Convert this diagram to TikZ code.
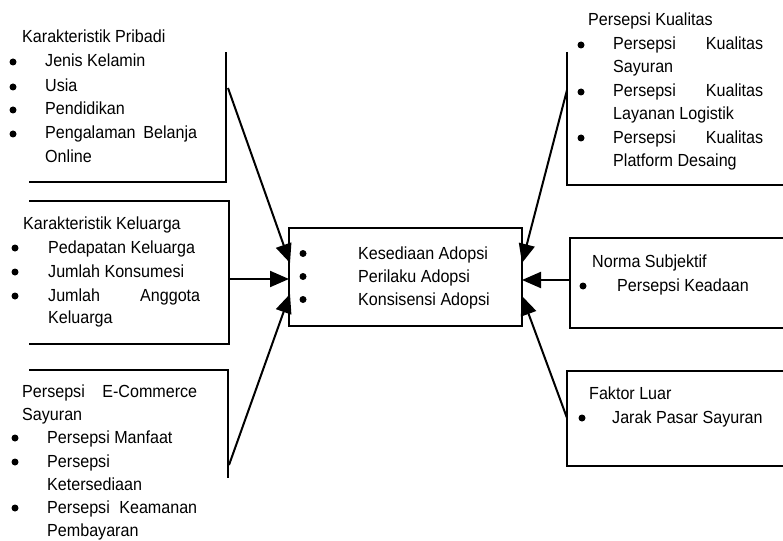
\documentclass[tikz,border=0pt]{standalone}
\usepackage{fontspec}
\setmainfont{Liberation Sans}[FakeStretch=0.92]
\usetikzlibrary{arrows.meta}
\begin{document}
\begin{tikzpicture}[x=1pt,y=-1pt,
  txt/.style={anchor=base west,inner sep=0pt,font=\fontsize{17.5}{20}\selectfont},
  edgeline/.style={line width=2.4pt},
  conn/.style={line width=2pt,-{Triangle[length=19pt,width=16pt]}},
  bul/.style={fill=black}]
\useasboundingbox (0,0) rectangle (783,540);
\fill[white] (0,0) rectangle (783,540);

% ---- box outlines (open shapes as printed) ----
\draw[edgeline] (29,182) -- (226,182) -- (226,52);
\draw[edgeline] (29,201) -- (229,201) -- (229,344) -- (29,344);
\draw[edgeline] (29,370) -- (228,370) -- (228,478);
\draw[edgeline] (567,52) -- (567,185) -- (783,185);
\draw[edgeline] (783,238) -- (570,238) -- (570,328) -- (783,328);
\draw[edgeline] (783,371) -- (567,371) -- (567,466) -- (783,466);
\draw[edgeline] (289,228) rectangle (522,326);

% ---- box 1 ----
\node[txt] (p0) at (22,43) {Karakteristik Pribadi};
\node[txt] (p1) at (45,67) {Jenis Kelamin};
\node[txt] (p2) at (45,92) {Usia};
\node[txt] (p3) at (45,115) {Pendidikan};
\node[txt] (p4) at (45,139) {\hbox to 152pt{Pengalaman\hfill Belanja}};
\node[txt] (p5) at (45,162) {Online};
\foreach \y in {67,92,115,139} \fill[bul] (13,\y-5) circle (3.5pt);

% ---- box 2 ----
\node[txt] (k0) at (23,229) {Karakteristik Keluarga};
\node[txt] (k1) at (48,253) {Pedapatan Keluarga};
\node[txt] (k2) at (48,277) {Jumlah Konsumesi};
\node[txt] (k3) at (48,301) {\hbox to 152pt{Jumlah\hfill Anggota}};
\node[txt] (k4) at (48,323) {Keluarga};
\foreach \y in {253,277,301} \fill[bul] (15,\y-5) circle (3.5pt);

% ---- box 3 ----
\node[txt] (e0) at (22,397) {\hbox to 175pt{Persepsi\hfill E-Commerce}};
\node[txt] (e1) at (22,420) {Sayuran};
\node[txt] (e2) at (47,443) {Persepsi Manfaat};
\node[txt] (e3) at (47,467) {Persepsi};
\node[txt] (e4) at (47,490) {Ketersediaan};
\node[txt] (e5) at (47,513) {\hbox to 150pt{Persepsi\hfill Keamanan}};
\node[txt] (e6) at (47,536) {Pembayaran};
\foreach \y in {443,467,513} \fill[bul] (15,\y-5) circle (3.5pt);

% ---- center ----
\node[txt] (c1) at (358,259) {Kesediaan Adopsi};
\node[txt] (c2) at (358,282) {Perilaku Adopsi};
\node[txt] (c3) at (358,305) {Konsisensi Adopsi};
\foreach \y in {259,282,305} \fill[bul] (303,\y-5.5) circle (3.5pt);

% ---- box 4 ----
\node[txt] (q0) at (588,26) {Persepsi Kualitas};
\node[txt] (q1) at (613,50) {\hbox to 150pt{Persepsi\hfill Kualitas}};
\node[txt] (q2) at (613,73) {Sayuran};
\node[txt] (q3) at (613,97) {\hbox to 150pt{Persepsi\hfill Kualitas}};
\node[txt] (q4) at (613,120) {Layanan Logistik};
\node[txt] (q5) at (613,143) {\hbox to 150pt{Persepsi\hfill Kualitas}};
\node[txt] (q6) at (613,167) {Platform Desaing};
\foreach \y in {50,97,143} \fill[bul] (581,\y-5) circle (3.5pt);

% ---- box 5 ----
\node[txt] (n0) at (592,267) {Norma Subjektif};
\node[txt] (n1) at (617,291) {Persepsi Keadaan};
\fill[bul] (583,286) circle (3.5pt);

% ---- box 6 ----
\node[txt] (f0) at (589,399) {Faktor Luar};
\node[txt] (f1) at (612,423) {Jarak Pasar Sayuran};
\fill[bul] (582,418) circle (3.5pt);

% ---- connector end points ----
\coordinate (a1s) at (228,88);
\coordinate (a1e) at (290,263);
\coordinate (a2s) at (229,279);
\coordinate (a2e) at (289,279);
\coordinate (a3s) at (229,465);
\coordinate (a3e) at (290,294);
\coordinate (b1s) at (567,90);
\coordinate (b1e) at (522,263);
\coordinate (b2s) at (570,280);
\coordinate (b2e) at (522,280);
\coordinate (b3s) at (567,418);
\coordinate (b3e) at (522,296);

\draw[conn] (a1s) -- (a1e);
\draw[conn] (a2s) -- (a2e);
\draw[conn] (a3s) -- (a3e);
\draw[conn] (b1s) -- (b1e);
\draw[conn] (b2s) -- (b2e);
\draw[conn] (b3s) -- (b3e);
\end{tikzpicture}
\end{document}
